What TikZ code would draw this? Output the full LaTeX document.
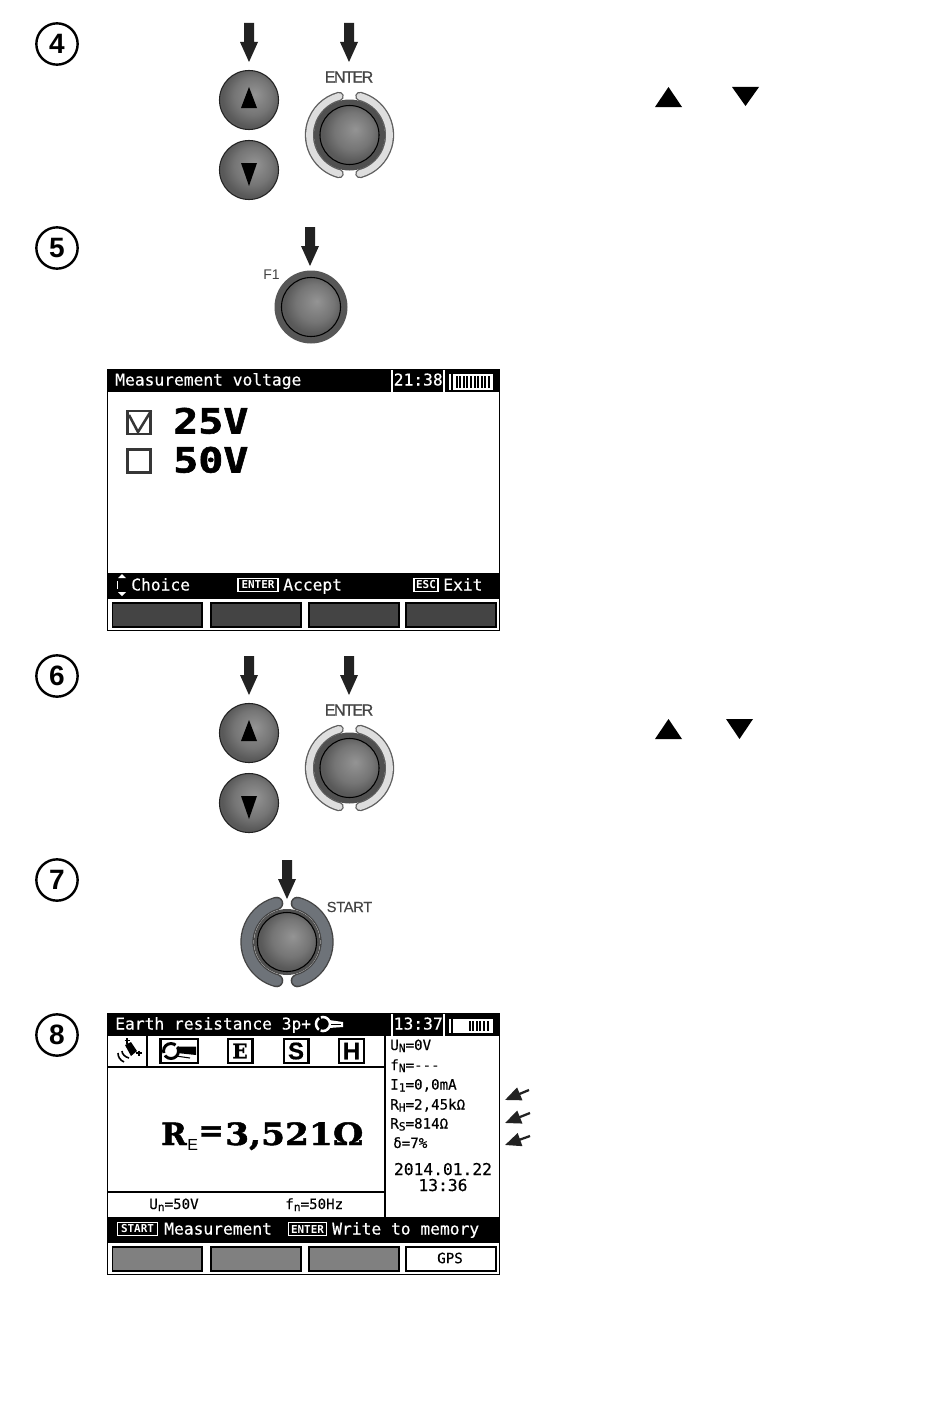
\documentclass[tikz,border=0pt]{standalone}
\usepackage{fontspec}
\setmainfont{Liberation Sans}
\usetikzlibrary{arrows.meta}
\newfontfamily\lcdf[FakeBold=0.35]{DejaVu Sans Mono}
\newfontfamily\lcdheavy[UprightFont=* Bold,FakeBold=1.6]{DejaVu Sans Mono}
\newfontfamily\chipf[UprightFont=* Bold]{DejaVu Sans Mono}
\newfontfamily\tightf[LetterSpace=-9,FakeBold=0.5]{Liberation Sans}
\newfontfamily\startf[LetterSpace=-2,FakeBold=0.2]{Liberation Sans}
\newfontfamily\serifb[UprightFont=* Bold,FakeBold=1.4]{DejaVu Serif}
\newfontfamily\boxsans[UprightFont=* Bold,FakeBold=0.6]{Liberation Sans}
\pgfdeclareradialshading{btnshade}{\pgfpoint{5bp}{5bp}}{rgb(0bp)=(0.58,0.58,0.58); rgb(16bp)=(0.46,0.46,0.46); rgb(25bp)=(0.35,0.35,0.35); rgb(50bp)=(0.35,0.35,0.35)}
\definecolor{arrowk}{HTML}{222222}
\definecolor{softk}{HTML}{444444}
\definecolor{greybtn}{HTML}{808080}
\definecolor{darkbtn}{HTML}{444444}
\definecolor{ringlight}{HTML}{DEDEDE}
\definecolor{ringblue}{HTML}{6E7379}
\definecolor{ringdisc}{HTML}{505050}
\tikzset{
  stepcircle/.style={circle,draw=black,line width=1.8,minimum size=31pt,inner sep=0pt,font=\bfseries\fontsize{21}{21}\selectfont},
  capt/.style={text=softk,inner sep=0pt,font=\tightf\fontsize{12}{12}\selectfont},
  lcdw/.style={text=white,anchor=base west,inner sep=0pt,font=\lcdf\fontsize{12.2}{12}\selectfont},
  lcdk/.style={text=black,anchor=base west,inner sep=0pt,font=\lcdf\fontsize{12.2}{12}\selectfont},
  lcds/.style={text=black,anchor=base west,inner sep=0pt,font=\lcdf\fontsize{10.6}{12}\selectfont},
  chip/.style={draw=white,line width=0.9,text=white,inner sep=0pt,font=\chipf\fontsize{8.2}{8}\selectfont,minimum height=10pt},
  softkey/.style={draw=black,line width=1},
  rule/.style={draw=black,line width=1.5},
  thintip/.style={line width=1.7,arrowk,-{Triangle[length=12pt,width=10pt]}},
}
\newcommand\pressarrow[2]{\fill[arrowk] (#1-5,#2) -- (#1+5,#2) -- (#1+5,#2+19) -- (#1+9,#2+19) -- (#1,#2+39) -- (#1-9,#2+19) -- (#1-5,#2+19) -- cycle;}
\newcommand\knob[3]{\shade[shading=btnshade,draw=#3,line width=0.8] (#1,#2) circle[radius=29.5];}
\newcommand\arrowkeys[2]{%
  \knob{#1}{#2}{arrowk}
  \knob{#1}{#2+70}{arrowk}
  \fill[black] (#1,#2-13) -- (#1+8,#2+8) -- (#1-8,#2+8) -- cycle;
  \fill[black] (#1,#2+86) -- (#1+8,#2+63) -- (#1-8,#2+63) -- cycle;
}
\newcommand\ringed[5]{% x y width fill outline
  \foreach \sa/\ea in {105/255,-75/75}{
    \draw[line width=#3+2,line cap=round,draw=#5] (#1,#2) ++(\sa:40) arc[start angle=\sa,end angle=\ea,radius=40];
    \draw[line width=#3,line cap=round,draw=#4] (#1,#2) ++(\sa:40) arc[start angle=\sa,end angle=\ea,radius=40];
  }
}
\newcommand\battery[5]{% y0 y1 firstbar-x count barheight
  \fill[white] (449,#1) rectangle (450.6,#2);
  \fill[white] (453,#1) rectangle (492.5,#2);
  \foreach \k in {1,...,#4}{\fill[black] (#3+\k*3.6,#1+2) rectangle ++(1.9,#5);}
}
\newcommand\softkeys[2]{%
  \draw[softkey,fill=#1] (112.5,#2) rectangle (202,#2+24);
  \draw[softkey,fill=#1] (211,#2) rectangle (301,#2+24);
  \draw[softkey,fill=#1] (309,#2) rectangle (399,#2+24);
}
\newcommand\lowsub[1]{\raisebox{-1.5pt}{\fontsize{8.5}{8}\selectfont #1}}
\begin{document}
\begin{tikzpicture}[x=0.75pt,y=-0.75pt]
\useasboundingbox (0,0) rectangle (950,1413);
\fill[white] (0,0) rectangle (950,1413);
% step numbers
\node[stepcircle] (s4) at (57,44) {4};
\node[stepcircle] (s5) at (57,248) {5};
\node[stepcircle] (s6) at (57,676) {6};
\node[stepcircle] (s7) at (57,880) {7};
\node[stepcircle] (s8) at (57,1035) {8};
% group 4
\pressarrow{249}{23}
\pressarrow{349}{23}
\arrowkeys{249}{100}
\node[capt] (en4) at (349,77) {ENTER};
\ringed{349.5}{135}{5}{ringlight}{softk!85!white}
\fill[ringdisc] (349.5,135) circle[radius=35.5];
\knob{349.5}{135}{black}
\fill[black] (655,107) -- (682,107) -- (668.5,87) -- cycle;
\fill[black] (732,87) -- (759,87) -- (745.5,106) -- cycle;
% group 5
\pressarrow{310}{227}
\node[text=softk,inner sep=0pt,font=\fontsize{10.5}{11}\selectfont] (f1) at (271.5,275) {F1};
\fill[softk!90!white] (311,307) circle[radius=36.5];
\knob{311}{307}{black}
% screen 1
\draw[black,line width=1.2,fill=white] (107.5,369.5) rectangle (499.5,630.5);
\fill[black] (107.5,369.5) rectangle (499.5,392);
\fill[black] (107.5,573) rectangle (499.5,599);
\node[lcdw] (h1) at (115,385.5) {Measurement voltage};
\draw[white,line width=0.8] (392,370) -- (392,392);
\draw[white,line width=0.8] (444,370) -- (444,392);
\node[lcdw] (t1) at (393.5,385.5) {21:38};
\battery{374}{389.5}{452}{10}{11.5}
\draw[softk!80!black,line width=1.9,fill=white] (127.5,411) rectangle (150.5,434);
\draw[softk!80!black,line width=1.9] (129,415) -- (138,432) -- (151,411);
\draw[softk!80!black,line width=1.9,fill=white] (127.5,449.5) rectangle (150.5,472.5);
\node[anchor=base west,inner sep=0pt,font=\lcdheavy\fontsize{26}{26}\selectfont] (v25) at (173,433.5) {\scalebox{1.2}[1]{25V}};
\node[anchor=base west,inner sep=0pt,font=\lcdheavy\fontsize{26}{26}\selectfont] (v50) at (173,472.5) {\scalebox{1.2}[1]{50V}};
\fill[white] (118,578) -- (126,578) -- (122,574) -- cycle;
\fill[white] (118,592) -- (126,592) -- (122,596) -- cycle;
\draw[white,line width=0.8] (117.5,581) -- (117.5,589);
\node[lcdw] (f1a) at (131,590.5) {Choice};
\node[chip,minimum width=30pt] (ch1) at (258,585) {ENTER};
\node[lcdw] (f1b) at (283,590.5) {Accept};
\node[chip,minimum width=18pt] (ch2) at (426,585) {ESC};
\node[lcdw] (f1c) at (443,590.5) {Exit};
\softkeys{darkbtn}{603}
\draw[softkey,fill=darkbtn] (406,603) rectangle (496,627);
% group 6
\pressarrow{249}{656}
\pressarrow{349}{656}
\arrowkeys{249}{733}
\node[capt] (en6) at (349,710) {ENTER};
\ringed{349.5}{768}{5}{ringlight}{softk!85!white}
\fill[ringdisc] (349.5,768) circle[radius=35.5];
\knob{349.5}{768}{black}
\fill[black] (655,739) -- (682,739) -- (668.5,719) -- cycle;
\fill[black] (726,719) -- (753,719) -- (739.5,739) -- cycle;
% group 7
\ringed{287}{942}{8}{ringblue}{softk}
\fill[ringdisc] (287,942) circle[radius=33];
\knob{287}{942}{black}
\pressarrow{287}{860}
\node[text=softk,inner sep=0pt,font=\startf\fontsize{11}{11}\selectfont] (st7) at (349.5,907) {START};
% screen 2
\draw[black,line width=1.2,fill=white] (107.5,1013.5) rectangle (499.5,1274.5);
\fill[black] (107.5,1013.5) rectangle (499.5,1036);
\fill[black] (107.5,1217) rectangle (499.5,1243);
\node[lcdw] (h2) at (115,1029.5) {Earth resistance 3p+};
% clamp icon, header
\draw[white,line width=1.9,dash pattern=on 10 off 1.5] (323,1024) circle[radius=7];
\fill[white] (329,1020) -- (343,1022) -- (343,1027) -- (329,1028) -- cycle;
\fill[black] (331,1023.5) rectangle (341,1024.5);
\draw[white,line width=0.8] (392,1014) -- (392,1036);
\draw[white,line width=0.8] (444,1014) -- (444,1036);
\node[lcdw] (t2) at (393.5,1029.5) {13:37};
\battery{1018.5}{1033}{465}{6}{10.5}
\draw[rule] (385,1036) -- (385,1217);
\draw[rule] (107.5,1067) -- (385,1067);
\draw[rule] (107.5,1192) -- (385,1192);
\draw[black,line width=0.8] (147,1036) -- (147,1067);
% satellite icon
\fill[black] (125,1045) -- (131,1042) -- (137,1051) -- (131,1056) -- cycle;
\draw[black,line width=1] (127,1038) -- (127,1044) (124.5,1040.5) -- (129.5,1040.5) (136,1053) -- (142,1053) (139,1050.5) -- (139,1055.5);
\draw[black,line width=1.2] (122,1051) .. controls (122,1054) and (125,1057) .. (129,1058);
\draw[black,line width=1.2] (118,1053) .. controls (118,1057) and (120,1060) .. (124,1062);
% icon boxes
\draw[black,line width=1.7] (160.5,1039) rectangle (198,1063);
\draw[black,line width=2.2,dash pattern=on 14 off 2] (171,1051) circle[radius=7.5];
\fill[black] (177,1046.5) -- (196,1046.5) -- (196,1055) -- (177,1053) -- cycle;
\draw[black,line width=0.8] (176,1056) -- (190,1058);
\draw[black,line width=1.7] (228,1039) rectangle (252.5,1063);
\node[inner sep=0pt,font=\serifb\fontsize{15}{15}\selectfont] (ie) at (240,1051) {E};
\draw[black,line width=1.7] (284,1039) rectangle (308.5,1063);
\node[inner sep=0pt,font=\boxsans\fontsize{18}{17}\selectfont] (is) at (296,1051) {S};
\draw[black,line width=1.7] (339,1039) rectangle (364,1063);
\node[inner sep=0pt,font=\boxsans\fontsize{18}{17}\selectfont] (ih) at (351.5,1051) {H};
% main reading
\node[anchor=base west,inner sep=0pt,font=\serifb\fontsize{23}{23}\selectfont] (rr) at (161,1145) {R};
\node[anchor=base west,inner sep=0pt,font=\fontsize{12}{12}\selectfont] (re) at (187,1150) {E};
\node[anchor=base west,inner sep=0pt,font=\serifb\fontsize{23}{23}\selectfont] (req) at (198,1141) {=};
\node[anchor=base west,inner sep=0pt,font=\serifb\fontsize{23}{23}\selectfont] (rv) at (225,1145) {\scalebox{1.12}[1]{3,521Ω}};
\node[lcds] (un) at (149,1209) {U\lowsub{n}=50V};
\node[lcds] (fn) at (285,1209) {f\lowsub{n}=50Hz};
% side panel
\node[lcds] (p1) at (390,1050) {U\lowsub{N}=0V};
\node[lcds] (p2) at (390,1070) {f\lowsub{N}=---};
\node[lcds] (p3) at (390,1089.5) {I\lowsub{1}=0,0mA};
\node[lcds] (p4) at (390,1109.5) {R\lowsub{H}=2,45kΩ};
\node[lcds] (p5) at (390,1128.5) {R\lowsub{S}=814Ω};
\node[lcds] (p6) at (393,1148) {δ=7\%};
\node[lcdk,anchor=base] (d1) at (443,1175) {2014.01.22};
\node[lcdk,anchor=base] (d2) at (443,1191) {13:36};
% small arrows
\coordinate (a1s) at (529,1090);\coordinate (a1e) at (505,1100);
\coordinate (a2s) at (530,1113);\coordinate (a2e) at (505,1123);
\coordinate (a3s) at (530,1136);\coordinate (a3e) at (505,1145);
\draw[thintip] (a1s) -- (a1e);
\draw[thintip] (a2s) -- (a2e);
\draw[thintip] (a3s) -- (a3e);
% footer 2
\node[chip,minimum width=30pt] (ch3) at (137.5,1229) {START};
\node[lcdw] (f2a) at (164,1234.5) {Measurement};
\node[chip,minimum width=29pt] (ch4) at (307.5,1229) {ENTER};
\node[lcdw] (f2b) at (332,1234.5) {Write to memory};
\softkeys{greybtn}{1247}
\draw[softkey,fill=white] (406,1247) rectangle (496,1271);
\node[lcds,anchor=center] (gps) at (450,1258) {GPS};
\end{tikzpicture}
\end{document}
